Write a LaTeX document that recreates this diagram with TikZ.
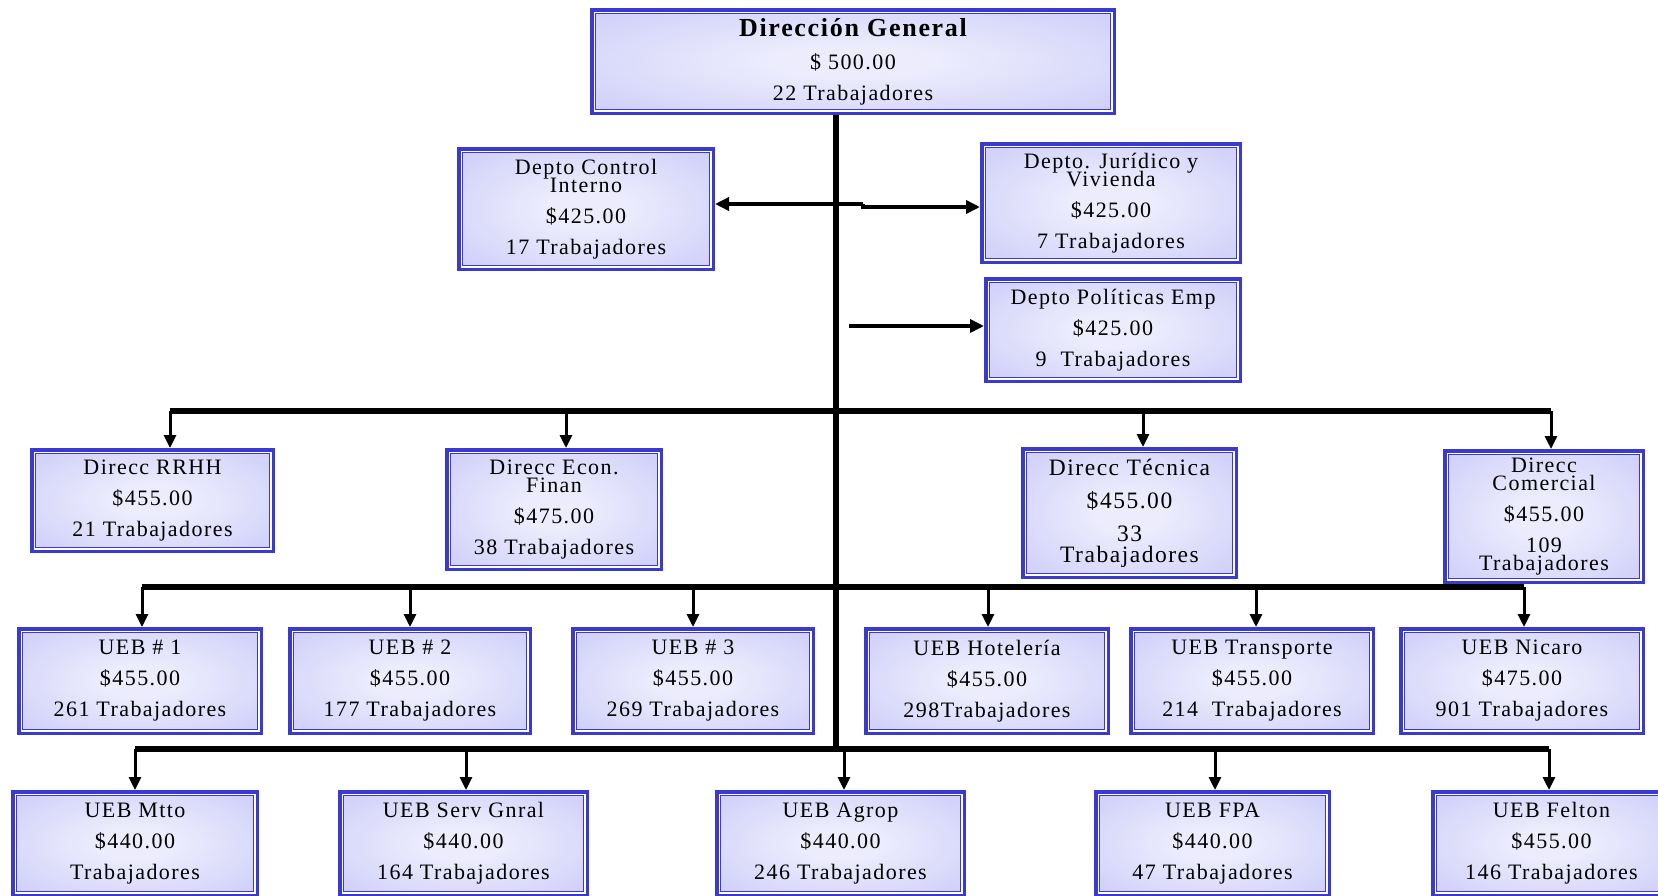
\documentclass[tikz,border=0pt]{standalone}
\usepackage{fontspec}
\setmainfont{Liberation Serif}[LetterSpace=6.5]
\usetikzlibrary{arrows.meta}
\definecolor{bordercol}{RGB}{58,58,208}
\definecolor{boxin}{RGB}{236,236,253}
\definecolor{boxout}{RGB}{198,198,248}
\pgfdeclareradialshading{boxshade}{\pgfpoint{0bp}{0bp}}{color(0bp)=(boxin); color(8bp)=(boxin); color(42bp)=(boxout); color(50bp)=(boxout)}
\tikzset{
  orgbox/.style={draw=bordercol, line width=1.75pt, shade, shading=boxshade,
    inner sep=0pt, align=center, font=\fontsize{11pt}{15.5pt}\selectfont,
    path picture={
      \draw[white, line width=0.6pt]
        ([shift={(1.175pt,-1.175pt)}]path picture bounding box.north west) rectangle
        ([shift={(-1.175pt,1.175pt)}]path picture bounding box.south east);
      \draw[bordercol, line width=0.75pt]
        ([shift={(1.85pt,-1.85pt)}]path picture bounding box.north west) rectangle
        ([shift={(-1.85pt,1.85pt)}]path picture bounding box.south east);
    }},
  trunkline/.style={line width=3pt},
  busline/.style={line width=2.75pt},
  downarr/.style={line width=1.5pt, -{Triangle[width=6pt,length=6.5pt]}},
  sidearr/.style={line width=2pt, -{Triangle[width=6.5pt,length=7pt]}}
}
% name, extra options, x1, y1, x2, y2, text
\newcommand\bx[7]{\node[orgbox,#2, minimum width={(#5-#3)*0.5pt-1.75pt}, minimum height={(#6-#4)*0.5pt-1.75pt}] (#1) at ({(#3+#5)/2},{(#4+#6)/2}) {#7};}
\newcommand\drop[3]{\coordinate (d#3) at (#1,#2); \draw[downarr] (d#3) -- (d#3 |- #3.north);}
\begin{document}
\begin{tikzpicture}[x=0.5pt,y=-0.5pt]
\useasboundingbox (0,0) rectangle (1658,895);
% top
\bx{DG}{}{590}{8}{1116}{115}{{\bfseries\fontsize{13pt}{16pt}\selectfont Dirección General}\\[1pt]\$ 500.00\\22 Trabajadores}
\bx{CI}{}{457}{147}{715}{271}{Depto Control\\[-6.5pt]Interno\\\$425.00\\17 Trabajadores}
\bx{JV}{}{980}{142}{1242}{264}{Depto. Jurídico y\\[-6.5pt]Vivienda\\\$425.00\\7 Trabajadores}
\bx{PE}{}{984}{277}{1242}{383}{Depto Políticas Emp\\\$425.00\\9~~Trabajadores}
% level 2
\bx{RH}{}{30}{448}{275}{553}{Direcc RRHH\\\$455.00\\21 Trabajadores}
\bx{EC}{}{445}{448}{663}{571}{Direcc Econ.\\[-6.5pt]Finan\\\$475.00\\38 Trabajadores}
\bx{TE}{font=\fontsize{11.75pt}{16.5pt}\selectfont}{1021}{447}{1238}{579}{Direcc Técnica\\\$455.00\\33\\[-6pt]Trabajadores}
\bx{CO}{}{1443}{449}{1645}{584}{Direcc\\[-6.5pt]Comercial\\\$455.00\\109\\[-6.5pt]Trabajadores}
% level 3
\bx{U1}{}{17}{627}{263}{735}{UEB \# 1\\\$455.00\\261 Trabajadores}
\bx{U2}{}{288}{627}{532}{735}{UEB \# 2\\\$455.00\\177 Trabajadores}
\bx{U3}{}{571}{627}{815}{735}{UEB \# 3\\\$455.00\\269 Trabajadores}
\bx{HO}{}{864}{627}{1110}{735}{UEB Hotelería\\\$455.00\\298Trabajadores}
\bx{TR}{}{1129}{627}{1375}{735}{UEB Transporte\\\$455.00\\214~~Trabajadores}
\bx{NI}{}{1399}{627}{1645}{735}{UEB Nicaro\\\$475.00\\901 Trabajadores}
% level 4
\bx{MT}{}{11}{790}{259}{897}{UEB Mtto\\\$440.00\\Trabajadores}
\bx{SG}{}{338}{790}{589}{897}{UEB Serv Gnral\\\$440.00\\164 Trabajadores}
\bx{AG}{}{715}{790}{966}{897}{UEB Agrop\\\$440.00\\246 Trabajadores}
\bx{FP}{}{1094}{790}{1331}{897}{UEB FPA\\\$440.00\\47 Trabajadores}
\bx{FE}{}{1431}{790}{1672}{897}{UEB Felton\\\$455.00\\146 Trabajadores}
% trunk
\coordinate (t3) at (836,749);
\draw[trunkline] (DG.south -| t3) -- (t3);
% side departments
\coordinate (j1) at (863,204);
\coordinate (j2) at (863,207);
\draw[sidearr] (j1) -- (CI.east |- j1);
\draw[sidearr] (j1) -- (j2) -- (JV.west |- j2);
\coordinate (p1) at (849,326);
\draw[sidearr] (p1) -- (PE.west |- p1);
% bus 1
\coordinate (b1l) at (170,411); \coordinate (b1r) at (1551,411);
\draw[busline] (b1l) -- (b1r);
\drop{170}{411}{RH} \drop{566}{411}{EC} \drop{1143}{411}{TE} \drop{1551}{411}{CO}
% bus 2
\coordinate (b2l) at (142,587); \coordinate (b2r) at (1524,587);
\draw[busline] (b2l) -- (b2r);
\drop{142}{587}{U1} \drop{410}{587}{U2} \drop{693}{587}{U3}
\drop{988}{587}{HO} \drop{1256}{587}{TR} \drop{1524}{587}{NI}
% bus 3
\coordinate (b3l) at (135,749); \coordinate (b3r) at (1549,749);
\draw[busline] (b3l) -- (b3r);
\drop{135}{749}{MT} \drop{466}{749}{SG} \drop{844}{749}{AG}
\drop{1215}{749}{FP} \drop{1549}{749}{FE}
\end{tikzpicture}
\end{document}
